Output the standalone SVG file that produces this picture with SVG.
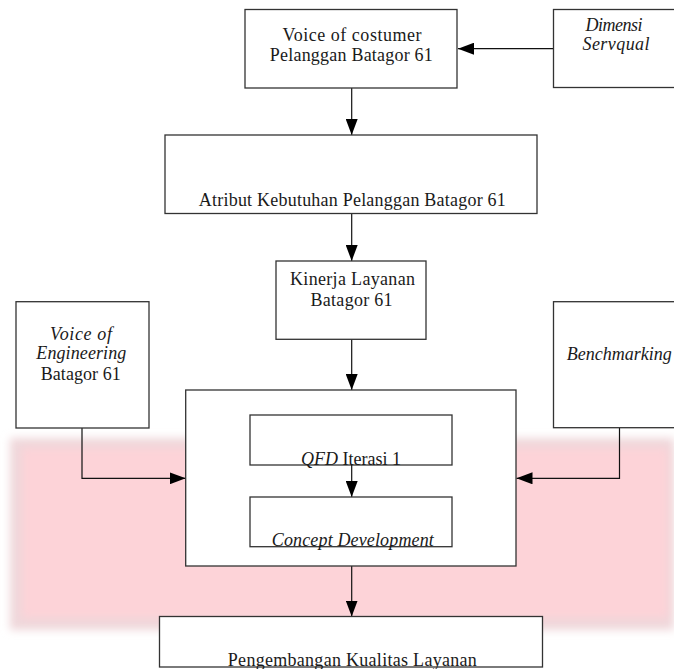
<svg xmlns="http://www.w3.org/2000/svg" width="674" height="669" viewBox="0 0 674 669">
<defs>
<style>
.box{fill:#fff;stroke:#333;stroke-width:1.3}
.t{font-family:"Liberation Serif","Times New Roman",serif;font-size:18px;fill:#1a1a1a;text-anchor:middle}
.i{font-style:italic}
.c{fill:none;stroke:#111;stroke-width:1.2}
</style>
<marker id="ah" markerUnits="userSpaceOnUse" markerWidth="18" markerHeight="12" refX="16" refY="6" orient="auto">
<path d="M0,0 L16,6 L0,12 Z" fill="#000"/>
</marker>
<filter id="blur" x="-10%" y="-20%" width="120%" height="140%">
<feGaussianBlur stdDeviation="4"/>
</filter>
</defs>
<rect width="674" height="669" fill="#fff"/>
<g id="background">
<rect x="10" y="438" width="664" height="192" fill="#efd7da" filter="url(#blur)"/>
<rect x="22" y="448" width="646" height="170" fill="#fdd3d8" filter="url(#blur)"/>
</g>
<g id="connectors">
<line class="c" x1="553" y1="48.7" x2="458" y2="48.7" marker-end="url(#ah)"/>
<line class="c" x1="351.7" y1="88" x2="351.7" y2="135" marker-end="url(#ah)"/>
<line class="c" x1="351.7" y1="213.7" x2="351.7" y2="261" marker-end="url(#ah)"/>
<line class="c" x1="351.7" y1="339.3" x2="351.7" y2="390" marker-end="url(#ah)"/>
<polyline class="c" points="82,428 82,478.3 185.7,478.3" marker-end="url(#ah)"/>
<polyline class="c" points="619.5,428 619.5,478.3 516.5,478.3" marker-end="url(#ah)"/>
<line class="c" x1="351.7" y1="566" x2="351.7" y2="616.5" marker-end="url(#ah)"/>
</g>
<g id="voc">
<rect class="box" x="245" y="9.5" width="212" height="78.5"/>
<text class="t" x="352" y="41" textLength="139" lengthAdjust="spacing">Voice of costumer</text>
<text class="t" x="351.3" y="61" textLength="163" lengthAdjust="spacing">Pelanggan Batagor 61</text>
</g>
<g id="dimensi">
<rect class="box" x="553.5" y="9.5" width="122" height="78"/>
<text class="t i" x="614" y="31" textLength="57" lengthAdjust="spacing">Dimensi</text>
<text class="t i" x="616" y="50" textLength="67" lengthAdjust="spacing">Servqual</text>
</g>
<g id="atribut">
<rect class="box" x="165" y="135" width="372" height="78.5"/>
<text class="t" x="352.3" y="206" textLength="307" lengthAdjust="spacing">Atribut Kebutuhan Pelanggan Batagor 61</text>
</g>
<g id="kinerja">
<rect class="box" x="276" y="261" width="150" height="78.3"/>
<text class="t" x="352.5" y="285" textLength="125" lengthAdjust="spacing">Kinerja Layanan</text>
<text class="t" x="351.5" y="306" textLength="82" lengthAdjust="spacing">Batagor 61</text>
</g>
<g id="voe">
<rect class="box" x="16" y="301.7" width="133" height="126.3"/>
<text class="t i" x="81" y="340" textLength="62" lengthAdjust="spacing">Voice of</text>
<text class="t i" x="81.3" y="358.5" textLength="90" lengthAdjust="spacing">Engineering</text>
<text class="t" x="80.7" y="380" textLength="80" lengthAdjust="spacing">Batagor 61</text>
</g>
<g id="benchmarking">
<rect class="box" x="553.5" y="301.7" width="122" height="126"/>
<text class="t i" x="566.7" y="360" style="text-anchor:start">Benchmarking</text>
</g>
<g id="qfd-group">
<rect class="box" x="185.7" y="390" width="330.3" height="176"/>
</g>
<g id="qfd">
<rect class="box" x="250" y="415" width="202" height="50"/>
<text class="t" x="301" y="465" style="text-anchor:start"><tspan class="i">QFD</tspan> <tspan>Iterasi 1</tspan></text>
</g>
<g id="qfd-arrow">
<line class="c" x1="351.7" y1="465" x2="351.7" y2="497" marker-end="url(#ah)"/>
</g>
<g id="concept">
<rect class="box" x="250" y="497" width="202" height="49.7"/>
<text class="t i" x="352.8" y="546" textLength="162" lengthAdjust="spacing">Concept Development</text>
</g>
<g id="pengembangan">
<rect class="box" x="159.5" y="616.5" width="383" height="50.5"/>
<text class="t" x="352.3" y="665.5" textLength="249" lengthAdjust="spacing">Pengembangan Kualitas Layanan</text>
</g>
</svg>
